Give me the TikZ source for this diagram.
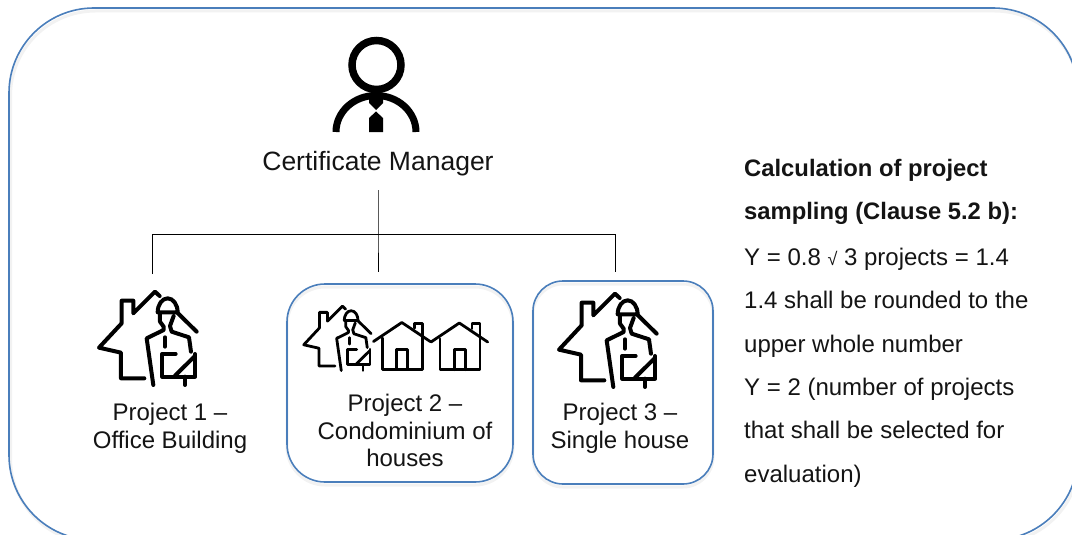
\documentclass[tikz,border=0pt]{standalone}
\usepackage{fontspec}
\setmainfont{Liberation Sans}
\definecolor{boxblue}{HTML}{4A7EBB}
\tikzset{x=1pt,y=-1pt,
  frame/.style={draw=boxblue,line width=1.6pt},
  shade line/.style={draw=black,opacity=.05,line width=3pt},
  conn/.style={draw=black,line width=0.9pt},
  icon/.style={draw=black,line width=#1,line cap=round,line join=round},
  lab/.style={align=center,inner sep=0pt,font=\fontsize{24}{27.6}\selectfont,text=black!92},
  side/.style={anchor=base west,inner sep=0pt,font=\fontsize{24}{27}\selectfont,text=black!92},
  pics/engineer/.style={code={
    \begin{scope}[x=0.3333pt,y=-0.3333pt]
    \draw[icon=#1] (178,295)--(108,295)--(108,218)--(42,203)--(110,130)--(110,62)--(145,62)--(145,100)--(210,35)--(224,48);
    \draw[icon=#1] (218,97) arc[start angle=180,end angle=360,x radius=30,y radius=42]--cycle;
    \draw[icon=#1] (276,97)--(335,155);
    \draw[icon=#1] (225,103)--(225,125)--(236,140)--(236,150)--(185,175)--(205,315);
    \draw[icon=#1] (266,108)--(255,138)--(260,155)--(312,172)--(318,215);
    \draw[icon=#1] (240,172)--(240,200);
    \draw[icon=#1] (272,222)--(232,222)--(232,290)--(330,290)--(330,222);
    \draw[icon=#1] (270,287)--(330,228);
    \draw[icon=#1] (300,290)--(300,315);
    \end{scope}}},
  pics/smallhouse/.style={code={
    \begin{scope}[x=0.3333pt,y=-0.3333pt]
    \draw[icon=2.8pt] (0,57)--(85,0)--(170,57);
    \draw[icon=2.8pt] (27,47)--(27,140)--(147,140)--(147,2)--(123,2)--(123,17);
    \draw[icon=2.8pt] (70,140)--(70,80)--(103,80)--(103,140);
    \end{scope}}}
}
\begin{document}
\begin{tikzpicture}
\useasboundingbox (0,0) rectangle (1072,535);
\clip (0,0) rectangle (1072,535);
% outer frame
\draw[shade line,rounded corners=85pt,xshift=1.5pt,yshift=-3pt] (9,8) rectangle (1078,540);
\draw[frame,rounded corners=85pt] (9,8) rectangle (1078,540);
% inner frames
\draw[shade line,rounded corners=38pt,yshift=-3pt] (287,284) rectangle (513,482);
\draw[shade line,rounded corners=30pt,yshift=-3pt] (533,281) rectangle (713,484);
\draw[frame,rounded corners=38pt] (287,284) rectangle (513,482);
\draw[frame,rounded corners=30pt] (533,281) rectangle (713,484);
% manager icon
\draw[draw=black,line width=7.5pt] (376.5,65) circle[radius=24.5];
\draw[line width=7pt,draw=black] (336,132) arc[start angle=180,end angle=360,x radius=40,y radius=36.5];
\fill[black] (369,97)--(383,97)--(383,103)--(376,110)--(369,103)--cycle;
\fill[black] (369,132)--(369,118)--(376,111.5)--(383,118)--(383,132)--cycle;
% icons
\pic at (85,280) {engineer=4pt};
\pic at (545,282) {engineer=4pt};
\pic[scale=0.69] at (294.1,298.1) {engineer=2.8pt};
\pic at (373.5,322.5) {smallhouse};
\pic at (431,323) {smallhouse};
% labels
\node[lab,font=\fontsize{26.5}{30}\selectfont] (mgr) at (378,164) {Certificate Manager};
\node[lab] (p1) at (170,428.5) {Project 1 –\\Office Building};
\node[lab] (p2) at (405,430.5) {Project 2 –\\Condominium of\\houses};
\node[lab] (p3) at (620,428.5) {Project 3 –\\Single house};
% connectors
\coordinate (trunk) at (378,190);
\coordinate (mid) at (378,234);
\coordinate (left) at (152,234);
\coordinate (right) at (615,234);
\coordinate (end1) at (152,274);
\coordinate (end2) at (378,272);
\coordinate (end3) at (615,272);
\draw[conn] (trunk)--(mid)--(end2);
\draw[conn] (end1)--(left)--(right)--(end3);
% side text
\node[side,font=\fontsize{23.8}{27}\selectfont\bfseries] (s1) at (744,176) {Calculation of project};
\node[side,font=\fontsize{23.8}{27}\selectfont\bfseries] (s2) at (744,219.5) {sampling (Clause 5.2 b):};
\node[side] (s3) at (744,265.5) {Y = 0.8 {\fontsize{18}{18}\selectfont √} 3 projects = 1.4};
\node[side] (s4) at (744,308.5) {1.4 shall be rounded to the};
\node[side] (s5) at (744,352.5) {upper whole number};
\node[side] (s6) at (744,395.5) {Y = 2 (number of projects};
\node[side] (s7) at (744,438.5) {that shall be selected for};
\node[side] (s8) at (744,482.5) {evaluation)};
\end{tikzpicture}
\end{document}
